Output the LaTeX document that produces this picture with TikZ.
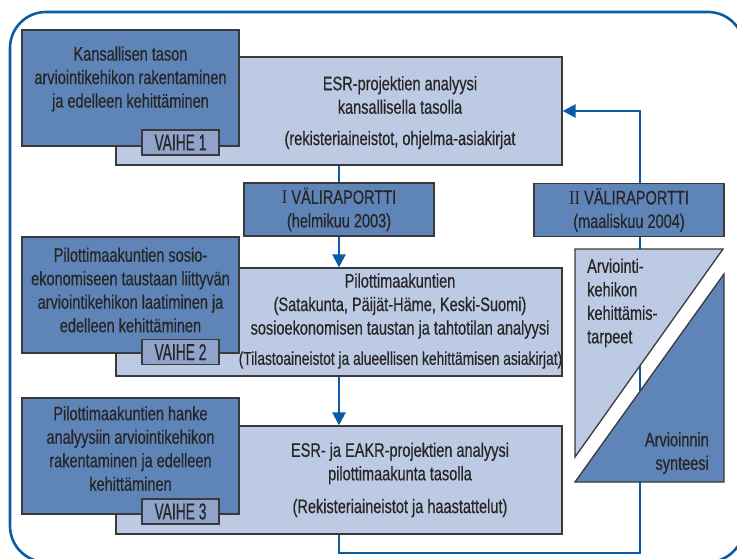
\documentclass[tikz,border=0pt]{standalone}
\usepackage{fontspec}
\setmainfont{Liberation Sans}[FakeStretch=0.745,FakeBold=0.5]
\newfontfamily\tagfont{Liberation Sans}[FakeStretch=0.6,FakeBold=0.5]
\newfontfamily\romfont{Liberation Serif}[FakeStretch=0.85]
\usetikzlibrary{arrows.meta}
\definecolor{dblue}{HTML}{5F84B8}
\definecolor{lblue}{HTML}{BDCAE3}
\definecolor{tblue}{HTML}{8FA3CB}
\definecolor{lineblue}{HTML}{0B5BA6}
\definecolor{bord}{HTML}{3A3A3A}
\definecolor{txtc}{HTML}{262626}
\begin{document}
\begin{tikzpicture}[x=1pt,y=-1pt,
  dbox/.style={draw=bord, fill=dblue, line width=1.3pt, minimum width=217pt, minimum height=116pt, inner sep=0pt},
  lbox/.style={draw=bord, fill=lblue, line width=1.3pt, minimum width=446pt, minimum height=108pt, inner sep=0pt},
  tagbox/.style={draw=bord, fill=tblue, line width=1.3pt, minimum width=77pt, minimum height=25pt, inner sep=0pt, font=\tagfont\fontsize{23}{23}\selectfont, text=txtc},
  rbox/.style={draw=bord, fill=dblue, line width=1.3pt, minimum width=190pt, minimum height=53pt, inner sep=0pt, align=center, font=\fontsize{19.5}{23.5}\selectfont, text=txtc},
  txt/.style={font=\fontsize{19.5}{23.5}\selectfont, text=txtc, align=center, inner sep=0pt},
  tri/.style={draw=bord, line width=1.3pt},
  conn/.style={draw=lineblue, line width=2.6pt},
  tip/.style={-{Triangle[length=13pt,width=13pt]}}
]
\useasboundingbox (0,0) rectangle (737,559);
\fill[white] (0,0) rectangle (737,559);
% outer frame
\draw[lineblue, line width=2.6pt, rounded corners=36pt] (10,12) rectangle (744,562);

% light boxes
\node[lbox] (light1) at (339,111) {};
\node[lbox] (light2) at (339,322) {};
\node[lbox] (light3) at (339,480) {};

% feedback line (behind right-hand shapes)
\coordinate (fbcorner) at (640,553);
\draw[conn, tip] (light3.south) |- (fbcorner) |- (light1.east);

% dark boxes
\node[dbox] (dark1) at (130.5,88) {};
\node[dbox] (dark2) at (130.5,295) {};
\node[dbox] (dark3) at (130.5,456) {};

% tags
\node[tagbox] (tag1) at (180.5,142.5) {VAIHE 1};
\node[tagbox] (tag2) at (180.5,352) {VAIHE 2};
\node[tagbox] (tag3) at (180.5,511.5) {VAIHE 3};

% report boxes
\node[rbox] (rep1) at (339,209.5) {{\romfont I} VÄLIRAPORTTI\\(helmikuu 2003)};
\node[rbox] (rep2) at (629,210) {{\romfont II} VÄLIRAPORTTI\\(maaliskuu 2004)};

% connectors
\draw[conn] (light1.south) -- (rep1.north);
\draw[conn, tip] (rep1.south) -- (light2.north);
\draw[conn, tip] (light2.south) -- (light3.north);

% triangles
\filldraw[tri, fill=lblue] (575,249) -- (723,249) -- (575,457) -- cycle;
\filldraw[tri, fill=dblue] (575,482) -- (724,482) -- (724,274) -- cycle;

% texts
\node[txt] (d1t) at (130.5,79) {Kansallisen tason\\arviointikehikon rakentaminen\\ja edelleen kehittäminen};
\node[txt] (l1t) at (400,95) {ESR-projektien analyysi\\kansallisella tasolla};
\node[txt] (l1s) at (400,140) {(rekisteriaineistot, ohjelma-asiakirjat};

\node[txt] (d2t) at (130.5,290) {Pilottimaakuntien sosio-\\ekonomiseen taustaan liittyvän\\arviointikehikon laatiminen ja\\edelleen kehittäminen};
\node[txt] (l2t) at (400,306) {Pilottimaakuntien\\(Satakunta, Päijät-Häme, Keski-Suomi)\\sosioekonomisen taustan ja tahtotilan analyysi};
\node[txt, font=\fontsize{18.5}{23.5}\selectfont] (l2s) at (400.5,360) {(Tilastoaineistot ja alueellisen kehittämisen asiakirjat)};

\node[txt] (d3t) at (130.5,448.5) {Pilottimaakuntien hanke\\analyysiin arviointikehikon\\rakentaminen ja edelleen\\kehittäminen};
\node[txt] (l3t) at (400,463.5) {ESR- ja EAKR-projektien analyysi\\pilottimaakunta tasolla};
\node[txt] (l3s) at (400,508) {(Rekisteriaineistot ja haastattelut)};

\node[txt, align=left, anchor=west] (tri1t) at (587,303) {Arviointi-\\kehikon\\kehittämis-\\tarpeet};
\node[txt, align=right, anchor=east] (tri2t) at (709,453) {Arvioinnin\\synteesi};
\end{tikzpicture}
\end{document}
